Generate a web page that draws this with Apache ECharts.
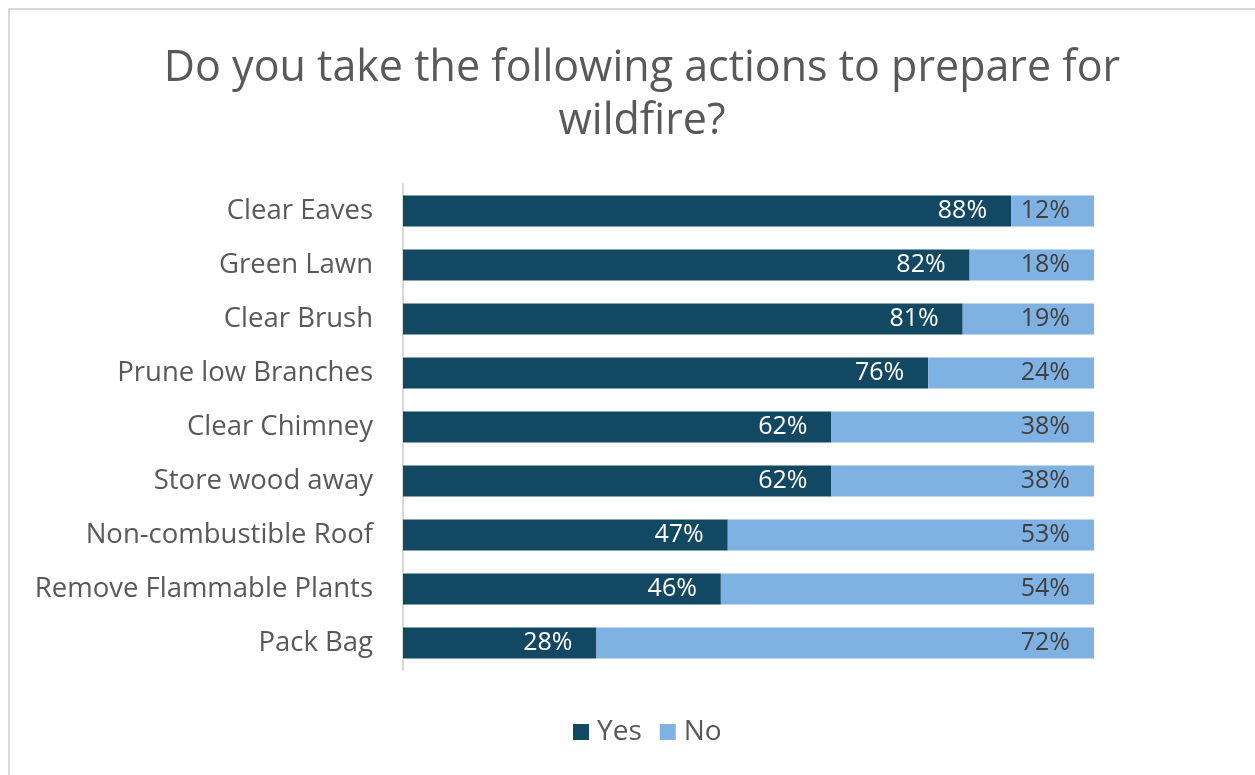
<!DOCTYPE html>
<html>
<head>
<meta charset="utf-8">
<script src="https://cdn.jsdelivr.net/npm/echarts@6/dist/echarts.min.js"></script>
<style>
  html, body { margin: 0; padding: 0; background: #fff; }
  #chart { width: 1255px; height: 775px; }
</style>
</head>
<body>
<div id="chart"></div>
<script>
// Survey answers: share of respondents taking each wildfire-preparation action
const categories = [
  'Clear Eaves', 'Green Lawn', 'Clear Brush', 'Prune low Branches',
  'Clear Chimney', 'Store wood away', 'Non-combustible Roof',
  'Remove Flammable Plants', 'Pack Bag'
];
const yesValues = [88, 82, 81, 76, 62, 62, 47, 46, 28];
const noValues  = [12, 18, 19, 24, 38, 38, 53, 54, 72];
const seriesNames = ['Yes', 'No'];

const FONT = '"Open Sans", Lato, sans-serif';
const TEXT = '#595959';

const chart = echarts.init(document.getElementById('chart'), null, { renderer: 'canvas' });

chart.setOption({
  backgroundColor: '#ffffff',
  animation: false,
  // light frame of the chart area (runs off the right and bottom edges)
  graphic: [{
    type: 'rect',
    shape: { x: 9, y: 9, width: 1400, height: 900 },
    style: { fill: 'none', stroke: '#d9d9d9', lineWidth: 2 },
    silent: true,
    z: -10
  }],
  title: {
    text: 'Do you take the following actions to prepare for\nwildfire?',
    left: 637,
    textAlign: 'center',
    top: 37,
    textStyle: {
      fontFamily: FONT,
      fontSize: 43,
      fontWeight: 'normal',
      color: TEXT,
      lineHeight: 53
    }
  },
  legend: {
    data: seriesNames,
    bottom: 24,
    left: 568,
    itemWidth: 16,
    itemHeight: 16,
    itemGap: 18,
    icon: 'rect',
    textStyle: { fontFamily: FONT, fontSize: 28, color: TEXT, padding: [0, 0, 0, 3] }
  },
  grid: { left: 403, right: 161, top: 184, bottom: 105, containLabel: false },
  xAxis: {
    type: 'value',
    min: 0,
    max: 100,
    show: false
  },
  yAxis: {
    type: 'category',
    data: categories,
    inverse: true,
    axisLine: { show: true, lineStyle: { color: '#d9d9d9', width: 2 } },
    axisTick: { show: false },
    axisLabel: {
      fontFamily: FONT,
      fontSize: 27.5,
      color: TEXT,
      margin: 30
    }
  },
  series: [
    {
      name: 'Yes',
      type: 'bar',
      stack: 'total',
      data: yesValues,
      barWidth: '57%',
      itemStyle: { color: '#134862' },
      label: {
        show: true,
        position: 'insideRight',
        distance: 24,
        formatter: '{c}%',
        fontFamily: FONT,
        fontSize: 25,
        color: '#ffffff'
      }
    },
    {
      name: 'No',
      type: 'bar',
      stack: 'total',
      data: noValues,
      itemStyle: { color: '#80b1e3' },
      label: {
        show: true,
        position: 'insideRight',
        distance: 24,
        formatter: '{c}%',
        fontFamily: FONT,
        fontSize: 25,
        color: '#404040'
      }
    }
  ]
});
</script>
</body>
</html>
